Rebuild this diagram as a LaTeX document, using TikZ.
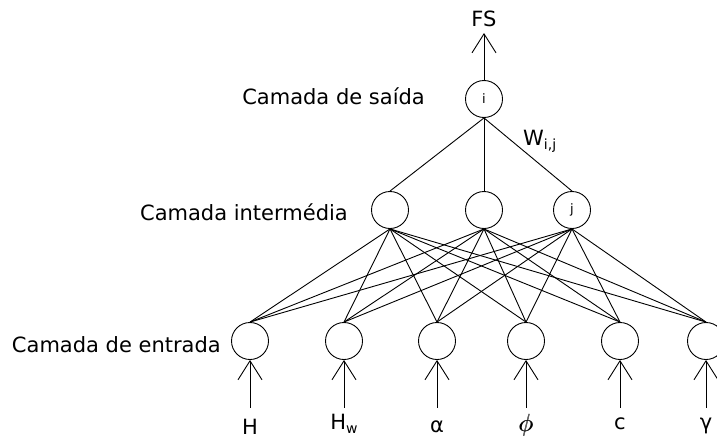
\documentclass[tikz,border=0pt]{standalone}
\usepackage{fontspec}
\setmainfont{DejaVu Sans}
\usetikzlibrary{arrows.meta}
\begin{document}
\begin{tikzpicture}[x=1pt,y=-1pt,
  neuron/.style={circle,draw,line width=0.9pt,minimum size=37pt,inner sep=0pt,font=\fontsize{13}{14}\selectfont},
  conn/.style={line width=0.9pt},
  inarrow/.style={line width=0.9pt,-{Straight Barb[length=19pt,width=24pt,line width=0.9pt]}},
  lbl/.style={font=\fontsize{21}{24}\selectfont,inner sep=0pt},
  layerlbl/.style={font=\fontsize{21}{24}\selectfont,inner sep=0pt,anchor=east}]
\useasboundingbox (0,0) rectangle (717,439);
% output neuron
\node[neuron] (i) at (484,99) {i};
\node[lbl] (fs) at (484,19) {FS};
\draw[inarrow] (i.north) -- (484,33) coordinate (fstip);
% hidden neurons
\node[neuron] (m1) at (390,210) {};
\node[neuron] (m2) at (484,210) {};
\node[neuron] (m3) at (572,210) {j};
% input neurons
\node[neuron] (n1) at (250,341) {};
\node[neuron] (n2) at (344,341) {};
\node[neuron] (n3) at (437,341) {};
\node[neuron] (n4) at (526,341) {};
\node[neuron] (n5) at (620,341) {};
\node[neuron] (n6) at (706,341) {};
% connections
\foreach \m in {m1,m2,m3}{
  \draw[conn] (\m.north) -- (i.south);
  \foreach \n in {n1,n2,n3,n4,n5,n6}{
    \draw[conn] (\n.north) -- (\m.south);
  }
}
% weight label
\node[lbl,anchor=west] (w) at (523,141) {W\raisebox{-0.35ex}{\fontsize{14}{14}\selectfont i,j}};
% layer labels
\node[layerlbl] (ls) at (425,96) {Camada de saída};
\node[layerlbl] (lm) at (348,212) {Camada intermédia};
\node[layerlbl] (le) at (221,345) {Camada de entrada};
% input arrows
\foreach \n in {n1,n2,n3,n4,n5,n6}{
  \coordinate (\n s) at ([yshift=-48pt]\n.south);
  \draw[inarrow] (\n s) -- (\n.south);
}
% input labels
\node[lbl] (t1) at (250,427) {H};
\node[lbl] (t2) at (344,424) {H\raisebox{-0.35ex}{\fontsize{14}{14}\selectfont w}};
\node[lbl] (t3) at (437,427) {α};
\node[lbl] (t4) at (526,425) {\fontsize{30}{30}\selectfont\rlap{$\phi$}\hspace{0.7pt}$\phi$};
\node[lbl] (t5) at (620,424) {c};
\node[lbl] (t6) at (706,426) {γ};
\end{tikzpicture}
\end{document}
